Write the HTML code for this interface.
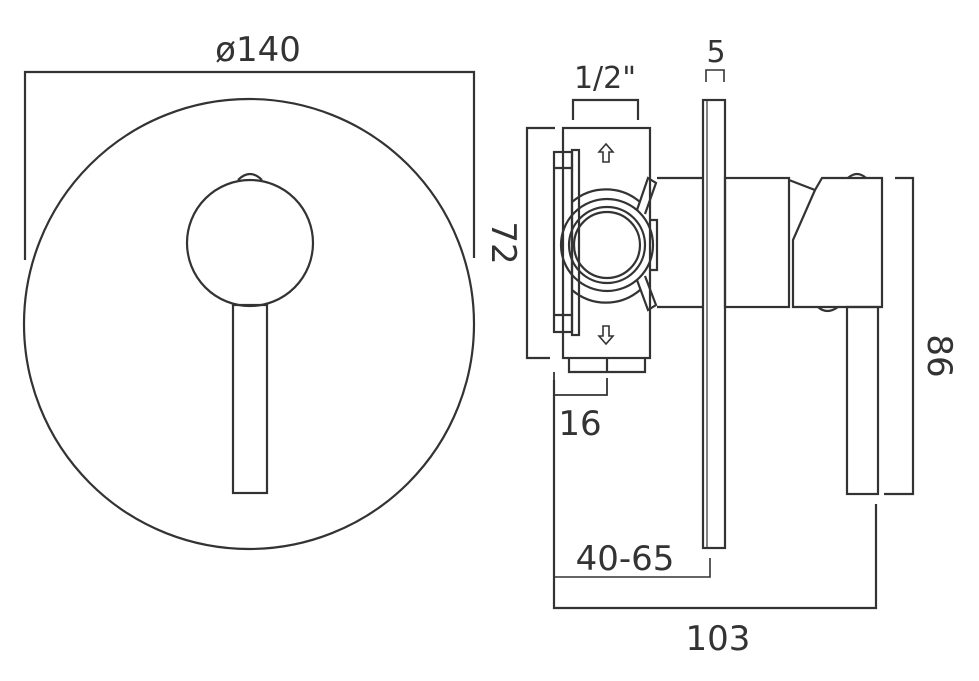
<!DOCTYPE html>
<html><head><meta charset="utf-8"><style>
html,body{margin:0;padding:0;background:#fff;}
svg{display:block;}
text{font-family:"DejaVu Sans","Liberation Sans",sans-serif;fill:#333;}
</style></head><body>
<svg width="979" height="681" viewBox="0 0 979 681" xmlns="http://www.w3.org/2000/svg">
<g fill="none" stroke="#333" stroke-width="2.2">
<!-- front view -->
<circle cx="249" cy="324" r="225"/>
<circle cx="250" cy="243" r="63"/>
<path d="M238,180 Q250,168 262,180"/>
<rect x="233" y="305" width="34" height="188"/>
<!-- dia dim -->
<polyline points="25,260 25,72 474,72 474,258"/>
<!-- 72 dim -->
<polyline points="555,128 527,128 527,358 550,358"/>
<!-- valve body -->
<rect x="563" y="128" width="87" height="230"/>
<rect x="554" y="152" width="18" height="180"/>
<line x1="554" y1="168" x2="572" y2="168"/>
<line x1="554" y1="315" x2="572" y2="315"/>
<rect x="572" y="150" width="7" height="185"/>
<polyline points="573,120 573,100 638,100 638,120"/>
<polyline points="569,358 569,372 645,372 645,358"/>
<line x1="607" y1="358" x2="607" y2="372"/>
<!-- ring -->
<path d="M572,202 A52,52 0 0 1 640,202"/>
<path d="M572,290 A52,52 0 0 0 640,290"/>
<circle cx="607" cy="245" r="46"/>
<circle cx="607" cy="245" r="38"/>
<circle cx="607" cy="245" r="33"/>
<path d="M637,210 L648,178 L656,183 L645,214"/>
<path d="M637,280 L648,310 L656,305 L645,276"/>
<path d="M651,220 L657,220 L657,270 L651,270"/>
<!-- arrows -->
<path d="M606,144 L599,152 L603,152 L603,162 L609,162 L609,152 L613,152 Z" stroke-width="1.6"/>
<path d="M606,344 L599,336 L603,336 L603,326 L609,326 L609,336 L613,336 Z" stroke-width="1.6"/>
<!-- extension -->
<line x1="657" y1="178" x2="703" y2="178"/>
<line x1="657" y1="307" x2="703" y2="307"/>
<rect x="703" y="100" width="22" height="448"/>
<line x1="707" y1="100" x2="707" y2="548" stroke-width="1.2"/>
<!-- right body -->
<rect x="725" y="178" width="64" height="129"/>
<path d="M789,180 L815,190 L822,178 L882,178 L882,307 L793,307 L793,240 L815,190"/>
<path d="M848,178 Q857,170 866,178"/>
<path d="M818,307 Q827,315 838,307"/>
<rect x="847" y="307" width="31" height="187"/>
<polyline points="895,178 913,178 913,494 884,494"/>
<!-- 5 dim -->
<polyline points="706,82 706,70 724,70 724,82" stroke-width="1.6"/>
<!-- 16 dim -->
<polyline points="554,372 554,395 607,395 607,378" stroke-width="1.8"/>
<!-- 40-65 -->
<polyline points="554,440 554,577 710,577 710,558" stroke-width="1.6"/>
<!-- 103 -->
<polyline points="554,380 554,608 876,608 876,504"/>
</g>
<g font-size="34">
<text x="258" y="61" text-anchor="middle">ø140</text>
<text x="605" y="88" text-anchor="middle" font-size="30">1/2"</text>
<text x="716" y="62" text-anchor="middle" font-size="30">5</text>
<text x="580" y="435" text-anchor="middle">16</text>
<text x="625" y="570" text-anchor="middle">40-65</text>
<text x="718" y="650" text-anchor="middle">103</text>
<text transform="translate(492,243) rotate(90)" text-anchor="middle">72</text>
<text transform="translate(928,356) rotate(90)" text-anchor="middle">86</text>
</g>
</svg>
</body></html>
